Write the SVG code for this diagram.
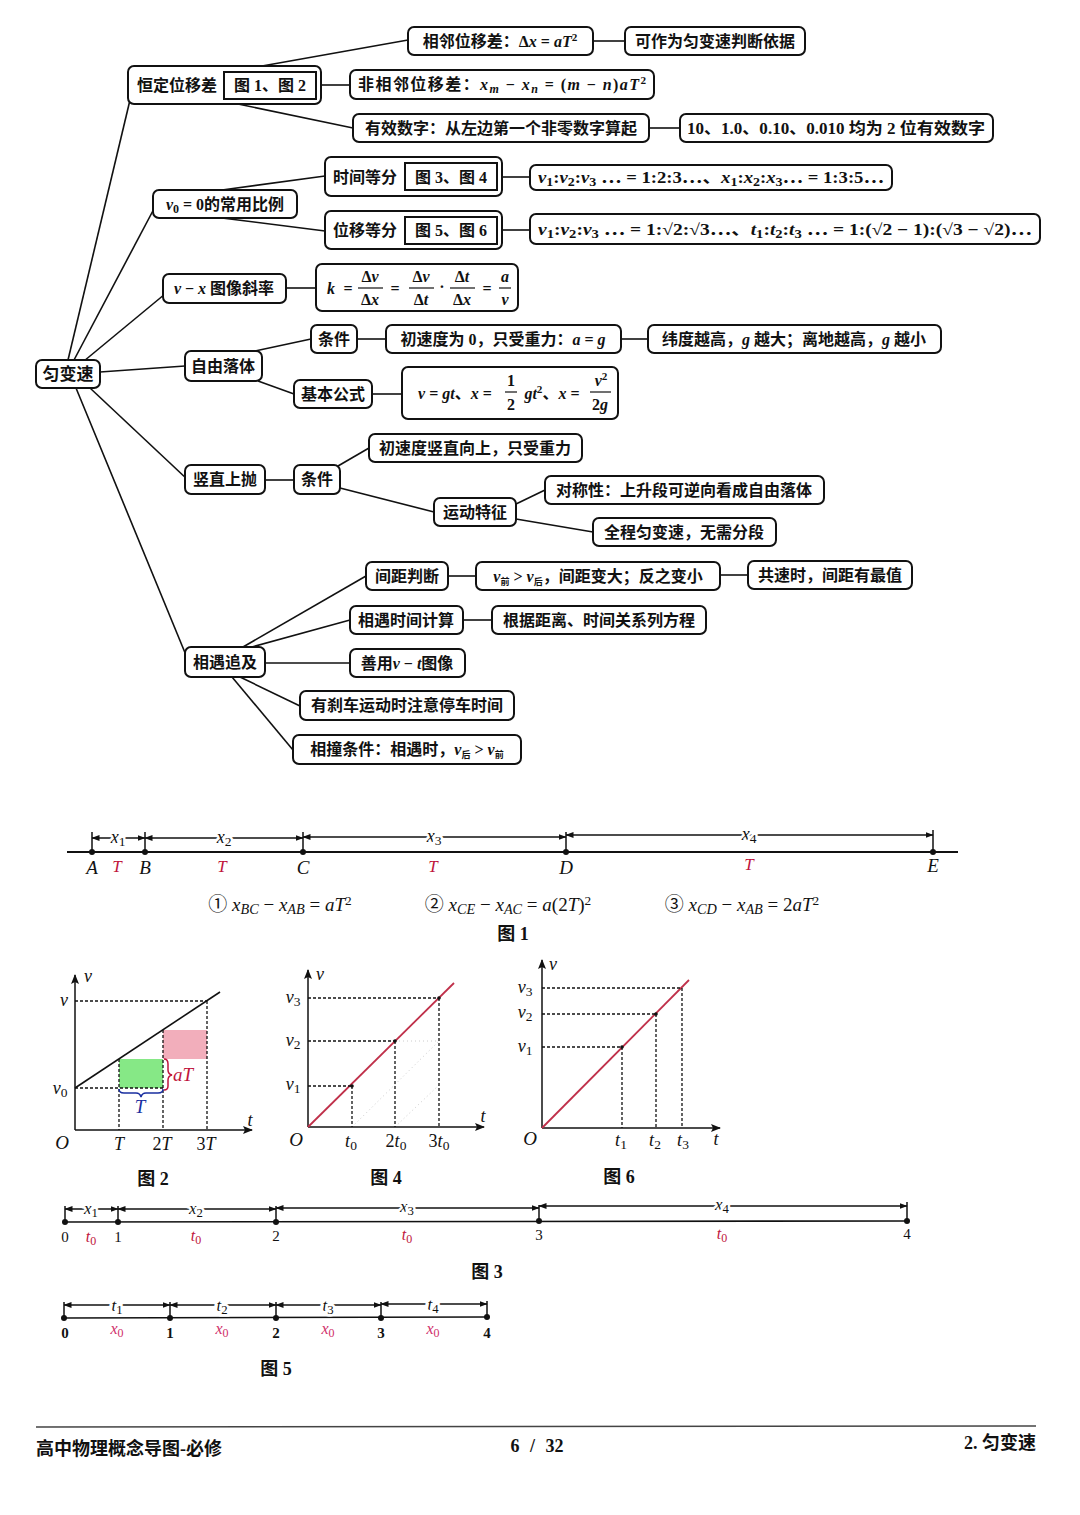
<svg xmlns="http://www.w3.org/2000/svg" width="1080" height="1515" viewBox="0 0 1080 1515">
<style>
text{font-family:"Liberation Serif","Noto Sans CJK SC",serif;fill:#111}
.n rect{fill:#fff;stroke:#111;stroke-width:2}
.n text{font-size:16px;font-weight:bold;text-anchor:middle}
.box{fill:none;stroke:#111;stroke-width:1.8}
#connectors line{stroke:#111;stroke-width:1.6}
.i{font-style:italic}
.sub{font-size:75%;baseline-shift:-3px;font-style:normal}
.sup{font-size:70%;baseline-shift:6px;font-style:normal}
.fig line{stroke:#111;stroke-width:1.5}
.fig .d{stroke-dasharray:3,2;stroke-width:1.3}
.fig text{font-size:18px}
.lbl{stroke:#fff;stroke-width:5;paint-order:stroke}
.red{fill:#c0143c}
.cap{font-size:17px;font-weight:bold;text-anchor:middle}
</style>
<defs>
<marker id="ar" viewBox="0 0 8 6" refX="7.5" refY="3" markerWidth="8" markerHeight="6" markerUnits="userSpaceOnUse" orient="auto-start-reverse"><path d="M0,0 L8,3 L0,6 Z" fill="#111"/></marker>
<marker id="ax" viewBox="0 0 10 8" refX="9" refY="4" markerWidth="10" markerHeight="8" markerUnits="userSpaceOnUse" orient="auto"><path d="M0,0 L10,4 L0,8 L2,4 Z" fill="#111"/></marker>
</defs>
<rect width="1080" height="1515" fill="#fff"/>

<g id="connectors">
<line x1="68" y1="360" x2="130" y2="100"/>
<line x1="74" y1="360" x2="156" y2="205"/>
<line x1="84" y1="361" x2="165" y2="294"/>
<line x1="100" y1="372" x2="185" y2="366"/>
<line x1="90" y1="388" x2="188" y2="480"/>
<line x1="76" y1="388" x2="188" y2="660"/>
<line x1="262" y1="66" x2="408" y2="40"/>
<line x1="321" y1="85" x2="350" y2="85"/>
<line x1="238" y1="104" x2="353" y2="128"/>
<line x1="593" y1="41" x2="625" y2="41"/>
<line x1="649" y1="128" x2="680" y2="128"/>
<line x1="222" y1="190" x2="325" y2="176"/>
<line x1="222" y1="218" x2="325" y2="231"/>
<line x1="502" y1="177" x2="530" y2="177"/>
<line x1="502" y1="230" x2="530" y2="230"/>
<line x1="286" y1="288" x2="316" y2="288"/>
<line x1="255" y1="351" x2="311" y2="339"/>
<line x1="357" y1="339" x2="386" y2="339"/>
<line x1="621" y1="339" x2="648" y2="339"/>
<line x1="258" y1="381" x2="294" y2="394"/>
<line x1="372" y1="394" x2="402" y2="394"/>
<line x1="265" y1="480" x2="294" y2="480"/>
<line x1="338" y1="466" x2="369" y2="448"/>
<line x1="340" y1="488" x2="434" y2="512"/>
<line x1="516" y1="504" x2="545" y2="490"/>
<line x1="516" y1="519" x2="593" y2="532"/>
<line x1="243" y1="647" x2="366" y2="576"/>
<line x1="448" y1="576" x2="476" y2="576"/>
<line x1="720" y1="575" x2="748" y2="575"/>
<line x1="252" y1="647" x2="350" y2="620"/>
<line x1="463" y1="620" x2="492" y2="620"/>
<line x1="265" y1="663" x2="350" y2="663"/>
<line x1="240" y1="677" x2="300" y2="706"/>
<line x1="232" y1="677" x2="293" y2="750"/>
</g>

<g id="n-root" class="n"><rect x="36" y="360" width="64" height="28" rx="6"/><text x="68" y="380" style="font-size:17px">匀变速</text></g>

<g id="n-hengding" class="n"><rect x="128" y="66" width="193" height="38" rx="6"/><text x="177" y="91">恒定位移差</text><rect class="box" x="224" y="72" width="92" height="27" style="fill:none"/><text x="270" y="91">图 1、图 2</text></g>
<g id="n-xianglin" class="n"><rect x="408" y="27" width="185" height="28" rx="6"/><text x="500" y="47">相邻位移差：Δ<tspan class="i">x</tspan> = <tspan class="i">aT</tspan><tspan class="sup">2</tspan></text></g>
<g id="n-kezuo" class="n"><rect x="625" y="27" width="180" height="28" rx="6"/><text x="715" y="47">可作为匀变速判断依据</text></g>
<g id="n-feixianglin" class="n"><rect x="350" y="70" width="304" height="29" rx="6"/><text x="502" y="90" textLength="288" lengthAdjust="spacing">非相邻位移差：<tspan class="i">x</tspan><tspan class="sub" style="font-style:italic">m</tspan> − <tspan class="i">x</tspan><tspan class="sub" style="font-style:italic">n</tspan> = (<tspan class="i">m</tspan> − <tspan class="i">n</tspan>)<tspan class="i">aT</tspan><tspan class="sup">2</tspan></text></g>
<g id="n-youxiao" class="n"><rect x="353" y="114" width="296" height="28" rx="6"/><text x="501" y="134">有效数字：从左边第一个非零数字算起</text></g>
<g id="n-shili" class="n"><rect x="680" y="114" width="313" height="28" rx="6"/><text x="836" y="134" textLength="298" lengthAdjust="spacingAndGlyphs">10、1.0、0.10、0.010 均为 2 位有效数字</text></g>

<g id="n-v0" class="n"><rect x="153" y="190" width="144" height="28" rx="6"/><text x="225" y="210"><tspan class="i">v</tspan><tspan class="sub">0</tspan> = 0的常用比例</text></g>
<g id="n-shijian" class="n"><rect x="325" y="157" width="177" height="39" rx="6"/><text x="365" y="183">时间等分</text><rect class="box" x="405" y="163" width="92" height="27" style="fill:none"/><text x="451" y="183">图 3、图 4</text></g>
<g id="n-shijianbi" class="n"><rect x="530" y="165" width="362" height="25" rx="6"/><text x="711" y="183" textLength="346" lengthAdjust="spacingAndGlyphs"><tspan class="i">v</tspan><tspan class="sub">1</tspan>:<tspan class="i">v</tspan><tspan class="sub">2</tspan>:<tspan class="i">v</tspan><tspan class="sub">3</tspan> ⋯ = 1:2:3⋯、<tspan class="i">x</tspan><tspan class="sub">1</tspan>:<tspan class="i">x</tspan><tspan class="sub">2</tspan>:<tspan class="i">x</tspan><tspan class="sub">3</tspan>⋯ = 1:3:5⋯</text></g>
<g id="n-weiyi" class="n"><rect x="325" y="211" width="177" height="38" rx="6"/><text x="365" y="236">位移等分</text><rect class="box" x="405" y="217" width="92" height="27" style="fill:none"/><text x="451" y="236">图 5、图 6</text></g>
<g id="n-weiyibi" class="n"><rect x="530" y="214" width="510" height="30" rx="6"/><text x="785" y="235" textLength="494" lengthAdjust="spacingAndGlyphs"><tspan class="i">v</tspan><tspan class="sub">1</tspan>:<tspan class="i">v</tspan><tspan class="sub">2</tspan>:<tspan class="i">v</tspan><tspan class="sub">3</tspan> ⋯ = 1:√2:√3⋯、<tspan class="i">t</tspan><tspan class="sub">1</tspan>:<tspan class="i">t</tspan><tspan class="sub">2</tspan>:<tspan class="i">t</tspan><tspan class="sub">3</tspan> ⋯ = 1:(√2 − 1):(√3 − √2)⋯</text></g>

<g id="n-vx" class="n"><rect x="163" y="274" width="123" height="29" rx="6"/><text x="224" y="294"><tspan class="i">v</tspan> − <tspan class="i">x</tspan> 图像斜率</text></g>
<g id="n-k" class="n"><rect x="316" y="264" width="202" height="47" rx="6"/>
<text x="331" y="294" class="i">k</text><text x="348" y="294">=</text>
<text x="370" y="282">Δ<tspan class="i">v</tspan></text><line x1="358" y1="288" x2="383" y2="288" stroke="#111" stroke-width="1.2"/><text x="370" y="305">Δ<tspan class="i">x</tspan></text>
<text x="395" y="294">=</text>
<text x="421" y="282">Δ<tspan class="i">v</tspan></text><line x1="409" y1="288" x2="434" y2="288" stroke="#111" stroke-width="1.2"/><text x="421" y="305">Δ<tspan class="i">t</tspan></text>
<text x="442" y="292">·</text>
<text x="462" y="282">Δ<tspan class="i">t</tspan></text><line x1="450" y1="288" x2="475" y2="288" stroke="#111" stroke-width="1.2"/><text x="462" y="305">Δ<tspan class="i">x</tspan></text>
<text x="487" y="294">=</text>
<text x="505" y="282" class="i">a</text><line x1="499" y1="288" x2="511" y2="288" stroke="#111" stroke-width="1.2"/><text x="505" y="305" class="i">v</text></g>

<g id="n-ziyou" class="n"><rect x="185" y="351" width="77" height="30" rx="6"/><text x="223" y="372">自由落体</text></g>
<g id="n-tiaojian1" class="n"><rect x="311" y="325" width="46" height="28" rx="6"/><text x="334" y="345">条件</text></g>
<g id="n-chusudu" class="n"><rect x="386" y="325" width="235" height="28" rx="6"/><text x="503" y="345">初速度为 0，只受重力：<tspan class="i">a</tspan> = <tspan class="i">g</tspan></text></g>
<g id="n-weidu" class="n"><rect x="648" y="325" width="293" height="28" rx="6"/><text x="794" y="345">纬度越高，<tspan class="i">g</tspan> 越大；离地越高，<tspan class="i">g</tspan> 越小</text></g>
<g id="n-jiben" class="n"><rect x="294" y="380" width="78" height="28" rx="6"/><text x="333" y="400">基本公式</text></g>
<g id="n-gongshi" class="n"><rect x="402" y="367" width="216" height="52" rx="6"/>
<text x="455" y="399"><tspan class="i">v</tspan> = <tspan class="i">gt</tspan>、<tspan class="i">x</tspan> =</text>
<text x="511" y="386">1</text><line x1="505" y1="392" x2="517" y2="392" stroke="#111" stroke-width="1.2"/><text x="511" y="410">2</text>
<text x="552" y="399"><tspan class="i">gt</tspan><tspan class="sup">2</tspan>、<tspan class="i">x</tspan> =</text>
<text x="601" y="386"><tspan class="i">v</tspan><tspan class="sup">2</tspan></text><line x1="590" y1="392" x2="611" y2="392" stroke="#111" stroke-width="1.2"/><text x="600" y="410">2<tspan class="i">g</tspan></text></g>

<g id="n-shuzhi" class="n"><rect x="185" y="465" width="80" height="29" rx="6"/><text x="225" y="485">竖直上抛</text></g>
<g id="n-tiaojian2" class="n"><rect x="294" y="465" width="46" height="29" rx="6"/><text x="317" y="485">条件</text></g>
<g id="n-chusudu2" class="n"><rect x="369" y="434" width="213" height="28" rx="6"/><text x="475" y="454">初速度竖直向上，只受重力</text></g>
<g id="n-yundong" class="n"><rect x="434" y="498" width="82" height="28" rx="6"/><text x="475" y="518">运动特征</text></g>
<g id="n-duichen" class="n"><rect x="545" y="476" width="279" height="28" rx="6"/><text x="684" y="496">对称性：上升段可逆向看成自由落体</text></g>
<g id="n-quancheng" class="n"><rect x="593" y="518" width="183" height="28" rx="6"/><text x="684" y="538">全程匀变速，无需分段</text></g>

<g id="n-xiangyu" class="n"><rect x="185" y="647" width="80" height="30" rx="6"/><text x="225" y="668">相遇追及</text></g>
<g id="n-jianju" class="n"><rect x="366" y="562" width="82" height="28" rx="6"/><text x="407" y="582">间距判断</text></g>
<g id="n-vqian" class="n"><rect x="476" y="562" width="244" height="28" rx="6"/><text x="598" y="582"><tspan class="i">v</tspan><tspan class="sub" style="font-size:9px">前</tspan> &gt; <tspan class="i">v</tspan><tspan class="sub" style="font-size:9px">后</tspan>，间距变大；反之变小</text></g>
<g id="n-gongsu" class="n"><rect x="748" y="561" width="164" height="28" rx="6"/><text x="830" y="581">共速时，间距有最值</text></g>
<g id="n-xiangyushijian" class="n"><rect x="350" y="606" width="113" height="28" rx="6"/><text x="406" y="626">相遇时间计算</text></g>
<g id="n-genju" class="n"><rect x="492" y="606" width="214" height="28" rx="6"/><text x="599" y="626">根据距离、时间关系列方程</text></g>
<g id="n-shanyong" class="n"><rect x="350" y="649" width="115" height="28" rx="6"/><text x="407" y="669">善用<tspan class="i">v</tspan> − <tspan class="i">t</tspan>图像</text></g>
<g id="n-shache" class="n"><rect x="300" y="691" width="214" height="29" rx="6"/><text x="407" y="711">有刹车运动时注意停车时间</text></g>
<g id="n-xiangzhuang" class="n"><rect x="293" y="735" width="228" height="29" rx="6"/><text x="407" y="755">相撞条件：相遇时，<tspan class="i">v</tspan><tspan class="sub" style="font-size:9px">后</tspan> &gt; <tspan class="i">v</tspan><tspan class="sub" style="font-size:9px">前</tspan></text></g>

<!-- Figure 1 -->
<g id="fig1" class="fig">
<line x1="67" y1="852" x2="958" y2="852" style="stroke-width:1.8"/>
<line x1="92" y1="832" x2="92" y2="852"/><line x1="145" y1="832" x2="145" y2="852"/><line x1="303" y1="832" x2="303" y2="852"/><line x1="566" y1="832" x2="566" y2="852"/><line x1="933" y1="830" x2="933" y2="852"/>
<line x1="92" y1="838" x2="145" y2="838" marker-start="url(#ar)" marker-end="url(#ar)"/>
<line x1="145" y1="838" x2="303" y2="838" marker-start="url(#ar)" marker-end="url(#ar)"/>
<line x1="303" y1="837" x2="566" y2="837" marker-start="url(#ar)" marker-end="url(#ar)"/>
<line x1="566" y1="835" x2="933" y2="835" marker-start="url(#ar)" marker-end="url(#ar)"/>
<g fill="#111"><circle cx="92" cy="852" r="3"/><circle cx="145" cy="852" r="3"/><circle cx="303" cy="852" r="3"/><circle cx="566" cy="852" r="3"/><circle cx="933" cy="852" r="3"/></g>
<g text-anchor="middle">
<text x="118" y="843" class="i lbl">x<tspan class="sub">1</tspan></text>
<text x="224" y="843" class="i lbl">x<tspan class="sub">2</tspan></text>
<text x="434" y="842" class="i lbl">x<tspan class="sub">3</tspan></text>
<text x="749" y="840" class="i lbl">x<tspan class="sub">4</tspan></text>
<text x="92" y="874" class="i" style="font-size:19px">A</text>
<text x="145" y="874" class="i" style="font-size:19px">B</text>
<text x="303" y="874" class="i" style="font-size:19px">C</text>
<text x="566" y="874" class="i" style="font-size:19px">D</text>
<text x="933" y="872" class="i" style="font-size:19px">E</text>
<text x="117" y="872" class="i red" style="font-size:17px">T</text>
<text x="222" y="872" class="i red" style="font-size:17px">T</text>
<text x="433" y="872" class="i red" style="font-size:17px">T</text>
<text x="749" y="870" class="i red" style="font-size:17px">T</text>
<text x="280" y="911" style="font-size:19px">① <tspan class="i">x</tspan><tspan class="sub" style="font-style:italic">BC</tspan> − <tspan class="i">x</tspan><tspan class="sub" style="font-style:italic">AB</tspan> = <tspan class="i">aT</tspan><tspan class="sup">2</tspan></text>
<text x="508" y="911" style="font-size:19px">② <tspan class="i">x</tspan><tspan class="sub" style="font-style:italic">CE</tspan> − <tspan class="i">x</tspan><tspan class="sub" style="font-style:italic">AC</tspan> = <tspan class="i">a</tspan>(2<tspan class="i">T</tspan>)<tspan class="sup">2</tspan></text>
<text x="742" y="911" style="font-size:19px">③ <tspan class="i">x</tspan><tspan class="sub" style="font-style:italic">CD</tspan> − <tspan class="i">x</tspan><tspan class="sub" style="font-style:italic">AB</tspan> = 2<tspan class="i">aT</tspan><tspan class="sup">2</tspan></text>
</g>
<text x="513" y="940" class="cap">图 1</text>
</g>

<!-- Figure 2 -->
<g id="fig2" class="fig">
<rect x="119" y="1059" width="44" height="29" fill="#86e886"/>
<rect x="163" y="1030" width="44" height="29" fill="#f2aebb"/>
<line x1="75" y1="1130" x2="252" y2="1130" marker-end="url(#ax)"/>
<line x1="75" y1="1130" x2="75" y2="975" marker-end="url(#ax)"/>
<line x1="75" y1="1088" x2="220" y2="992" style="stroke-width:1.6"/>
<line class="d" x1="75" y1="1001" x2="207" y2="1001"/>
<line class="d" x1="207" y1="1001" x2="207" y2="1130"/>
<line class="d" x1="75" y1="1088" x2="163" y2="1088"/>
<line class="d" x1="119" y1="1059" x2="119" y2="1130"/>
<line class="d" x1="163" y1="1030" x2="163" y2="1130"/>
<path d="M119,1089 q0,4 5,4 h12 q4,0 5,4 q1,-4 5,-4 h12 q5,0 5,-4" fill="none" stroke="#1a2fa0" stroke-width="1.5"/>
<path d="M164,1059 q4,0 4,5 v6 q0,4 4,5 q-4,1 -4,5 v6 q0,4 -4,4" fill="none" stroke="#c0143c" stroke-width="1.5"/>
<text x="140" y="1113" class="i" text-anchor="middle" style="fill:#1a2fa0;font-size:19px">T</text>
<text x="183" y="1081" class="i" text-anchor="middle" style="fill:#c0143c;font-size:19px">aT</text>
<text x="84" y="982" class="i">v</text>
<text x="64" y="1006" class="i" text-anchor="middle">v</text>
<text x="60" y="1094" class="i" text-anchor="middle">v<tspan class="sub">0</tspan></text>
<text x="62" y="1149" class="i" text-anchor="middle" style="font-size:19px">O</text>
<text x="119" y="1150" class="i" text-anchor="middle">T</text>
<text x="162" y="1150" text-anchor="middle">2<tspan class="i">T</tspan></text>
<text x="206" y="1150" text-anchor="middle">3<tspan class="i">T</tspan></text>
<text x="250" y="1126" class="i" text-anchor="middle">t</text>
<text x="153" y="1185" class="cap">图 2</text>
</g>

<!-- Figure 4 -->
<g id="fig4" class="fig">
<line x1="352" y1="1127" x2="439" y2="1041" style="stroke:#ccc;stroke-width:1;stroke-dasharray:1,3"/>
<line x1="395" y1="1127" x2="439" y2="1085" style="stroke:#ccc;stroke-width:1;stroke-dasharray:1,3"/>
<line x1="395" y1="1041" x2="439" y2="1041" style="stroke:#ccc;stroke-width:1;stroke-dasharray:1,3"/>
<line x1="308" y1="1127" x2="484" y2="1127" marker-end="url(#ax)"/>
<line x1="308" y1="1127" x2="308" y2="970" marker-end="url(#ax)"/>
<line x1="308" y1="1127" x2="454" y2="983" style="stroke:#c0304a;stroke-width:1.8"/>
<line class="d" x1="308" y1="1086" x2="352" y2="1086"/><line class="d" x1="352" y1="1086" x2="352" y2="1127"/>
<line class="d" x1="308" y1="1041" x2="395" y2="1041"/><line class="d" x1="395" y1="1041" x2="395" y2="1127"/>
<line class="d" x1="308" y1="998" x2="439" y2="998"/><line class="d" x1="439" y1="998" x2="439" y2="1127"/>
<g fill="#111"><circle cx="352" cy="1086" r="1.8"/><circle cx="395" cy="1041" r="1.8"/><circle cx="439" cy="998" r="1.8"/></g>
<text x="316" y="980" class="i">v</text>
<text x="293" y="1003" class="i" text-anchor="middle">v<tspan class="sub">3</tspan></text>
<text x="293" y="1046" class="i" text-anchor="middle">v<tspan class="sub">2</tspan></text>
<text x="293" y="1090" class="i" text-anchor="middle">v<tspan class="sub">1</tspan></text>
<text x="296" y="1146" class="i" text-anchor="middle" style="font-size:19px">O</text>
<text x="351" y="1147" class="i" text-anchor="middle">t<tspan class="sub">0</tspan></text>
<text x="396" y="1147" text-anchor="middle">2<tspan class="i">t</tspan><tspan class="sub">0</tspan></text>
<text x="439" y="1147" text-anchor="middle">3<tspan class="i">t</tspan><tspan class="sub">0</tspan></text>
<text x="483" y="1122" class="i" text-anchor="middle">t</text>
<text x="386" y="1184" class="cap">图 4</text>
</g>

<!-- Figure 6 -->
<g id="fig6" class="fig">
<line x1="542" y1="1128" x2="720" y2="1128" marker-end="url(#ax)"/>
<line x1="542" y1="1128" x2="542" y2="960" marker-end="url(#ax)"/>
<line x1="542" y1="1128" x2="689" y2="980" style="stroke:#c0304a;stroke-width:1.8"/>
<line class="d" x1="542" y1="1047" x2="622" y2="1047"/><line class="d" x1="622" y1="1047" x2="622" y2="1128"/>
<line class="d" x1="542" y1="1014" x2="656" y2="1014"/><line class="d" x1="656" y1="1014" x2="656" y2="1128"/>
<line class="d" x1="542" y1="988" x2="682" y2="988"/><line class="d" x1="682" y1="988" x2="682" y2="1128"/>
<g fill="#111"><circle cx="622" cy="1047" r="1.8"/><circle cx="656" cy="1014" r="1.8"/></g>
<text x="549" y="970" class="i">v</text>
<text x="525" y="993" class="i" text-anchor="middle">v<tspan class="sub">3</tspan></text>
<text x="525" y="1018" class="i" text-anchor="middle">v<tspan class="sub">2</tspan></text>
<text x="525" y="1052" class="i" text-anchor="middle">v<tspan class="sub">1</tspan></text>
<text x="530" y="1145" class="i" text-anchor="middle" style="font-size:19px">O</text>
<text x="621" y="1146" class="i" text-anchor="middle">t<tspan class="sub">1</tspan></text>
<text x="655" y="1146" class="i" text-anchor="middle">t<tspan class="sub">2</tspan></text>
<text x="683" y="1146" class="i" text-anchor="middle">t<tspan class="sub">3</tspan></text>
<text x="716" y="1145" class="i" text-anchor="middle">t</text>
<text x="619" y="1183" class="cap">图 6</text>
</g>

<!-- Figure 3 -->
<g id="fig3" class="fig">
<line x1="63" y1="1222" x2="907" y2="1221" style="stroke-width:1.6"/>
<line x1="65" y1="1206" x2="65" y2="1222"/><line x1="118" y1="1206" x2="118" y2="1222"/><line x1="276" y1="1206" x2="276" y2="1222"/><line x1="539" y1="1205" x2="539" y2="1221"/><line x1="907" y1="1202" x2="907" y2="1221"/>
<line x1="65" y1="1209" x2="118" y2="1209" marker-start="url(#ar)" marker-end="url(#ar)"/>
<line x1="118" y1="1209" x2="276" y2="1209" marker-start="url(#ar)" marker-end="url(#ar)"/>
<line x1="276" y1="1208" x2="539" y2="1208" marker-start="url(#ar)" marker-end="url(#ar)"/>
<line x1="539" y1="1206" x2="907" y2="1206" marker-start="url(#ar)" marker-end="url(#ar)"/>
<g fill="#111"><circle cx="65" cy="1222" r="3"/><circle cx="118" cy="1222" r="3"/><circle cx="276" cy="1222" r="3"/><circle cx="539" cy="1221" r="3"/><circle cx="907" cy="1221" r="3"/></g>
<g text-anchor="middle">
<text x="91" y="1214" class="i lbl" style="font-size:17px">x<tspan class="sub">1</tspan></text>
<text x="196" y="1214" class="i lbl" style="font-size:17px">x<tspan class="sub">2</tspan></text>
<text x="407" y="1212" class="i lbl" style="font-size:17px">x<tspan class="sub">3</tspan></text>
<text x="722" y="1210" class="i lbl" style="font-size:17px">x<tspan class="sub">4</tspan></text>
<text x="65" y="1242" style="font-size:15px">0</text>
<text x="118" y="1242" style="font-size:15px">1</text>
<text x="276" y="1241" style="font-size:15px">2</text>
<text x="539" y="1240" style="font-size:15px">3</text>
<text x="907" y="1239" style="font-size:15px">4</text>
<text x="91" y="1242" class="i red" style="font-size:16px">t<tspan class="sub">0</tspan></text>
<text x="196" y="1241" class="i red" style="font-size:16px">t<tspan class="sub">0</tspan></text>
<text x="407" y="1240" class="i red" style="font-size:16px">t<tspan class="sub">0</tspan></text>
<text x="722" y="1239" class="i red" style="font-size:16px">t<tspan class="sub">0</tspan></text>
</g>
<text x="487" y="1278" class="cap">图 3</text>
</g>

<!-- Figure 5 -->
<g id="fig5" class="fig">
<line x1="64" y1="1318" x2="487" y2="1317" style="stroke-width:1.6"/>
<line x1="64" y1="1302" x2="64" y2="1318"/><line x1="170" y1="1302" x2="170" y2="1318"/><line x1="276" y1="1302" x2="276" y2="1318"/><line x1="381" y1="1302" x2="381" y2="1318"/><line x1="487" y1="1301" x2="487" y2="1317"/>
<line x1="64" y1="1305" x2="170" y2="1305" marker-start="url(#ar)" marker-end="url(#ar)"/>
<line x1="170" y1="1305" x2="276" y2="1305" marker-start="url(#ar)" marker-end="url(#ar)"/>
<line x1="276" y1="1305" x2="381" y2="1305" marker-start="url(#ar)" marker-end="url(#ar)"/>
<line x1="381" y1="1304" x2="487" y2="1304" marker-start="url(#ar)" marker-end="url(#ar)"/>
<g fill="#111"><circle cx="64" cy="1318" r="3"/><circle cx="170" cy="1318" r="3"/><circle cx="276" cy="1318" r="3"/><circle cx="381" cy="1318" r="3"/><circle cx="487" cy="1317" r="3"/></g>
<g text-anchor="middle">
<text x="117" y="1311" class="i lbl" style="font-size:17px">t<tspan class="sub">1</tspan></text>
<text x="222" y="1311" class="i lbl" style="font-size:17px">t<tspan class="sub">2</tspan></text>
<text x="328" y="1311" class="i lbl" style="font-size:17px">t<tspan class="sub">3</tspan></text>
<text x="433" y="1310" class="i lbl" style="font-size:17px">t<tspan class="sub">4</tspan></text>
<text x="65" y="1338" style="font-size:15px;font-weight:bold">0</text>
<text x="170" y="1338" style="font-size:15px;font-weight:bold">1</text>
<text x="276" y="1338" style="font-size:15px;font-weight:bold">2</text>
<text x="381" y="1338" style="font-size:15px;font-weight:bold">3</text>
<text x="487" y="1338" style="font-size:15px;font-weight:bold">4</text>
<text x="117" y="1334" class="i" style="font-size:16px;fill:#d0306a">x<tspan class="sub">0</tspan></text>
<text x="222" y="1334" class="i" style="font-size:16px;fill:#d0306a">x<tspan class="sub">0</tspan></text>
<text x="328" y="1334" class="i" style="font-size:16px;fill:#d0306a">x<tspan class="sub">0</tspan></text>
<text x="433" y="1334" class="i" style="font-size:16px;fill:#d0306a">x<tspan class="sub">0</tspan></text>
</g>
<text x="276" y="1375" class="cap">图 5</text>
</g>

<!-- Footer -->
<g id="footer">
<line x1="36" y1="1427" x2="1036" y2="1426" stroke="#444" stroke-width="1.5"/>
<text x="36" y="1455" style="font-size:18px;font-weight:bold">高中物理概念导图-必修</text>
<text x="537" y="1452" text-anchor="middle" style="font-size:18px;font-weight:bold;word-spacing:6px">6 / 32</text>
<text x="1036" y="1449" text-anchor="end" style="font-size:18px;font-weight:bold">2. 匀变速</text>
</g>
</svg>
